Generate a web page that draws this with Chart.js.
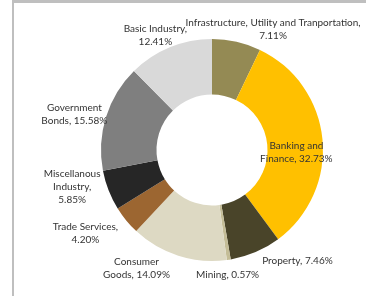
<!DOCTYPE html>
<html>
<head>
<meta charset="utf-8">
<script src="https://cdn.jsdelivr.net/npm/chart.js@4.4.1/dist/chart.umd.min.js"></script>
<style>
  html, body { margin: 0; padding: 0; background: #fff; }
  #wrap { position: relative; width: 366px; height: 296px; }
</style>
</head>
<body>
<div id="wrap"><canvas id="myChart" width="366" height="296"></canvas></div>
<script>
// data
const sectors = ['Infrastructure, Utility and Tranportation', 'Banking and Finance', 'Property', 'Mining',
    'Consumer Goods', 'Trade Services', 'Miscellanous Industry', 'Government Bonds', 'Basic Industry'];
const shares = [7.11, 32.73, 7.46, 0.57, 14.09, 4.20, 5.85, 15.58, 12.41];
const sliceColors = ['#948A54', '#FFC000', '#494429', '#C4BD97', '#DDD9C3', '#9C6631', '#262626', '#7F7F7F', '#D9D9D9'];

// label text lines (as in the picture) and where they sit, in units of the outer radius from the centre
const labelLines = [
    ['Infrastructure, Utility and Tranportation,', '7.11%'],
    ['Banking and', 'Finance, 32.73%'],
    ['Property, 7.46%'],
    ['Mining, 0.57%'],
    ['Consumer', 'Goods, 14.09%'],
    ['Trade Services,', '4.20%'],
    ['Miscellanous', 'Industry,', '5.85%'],
    ['Government', 'Bonds, 15.58%'],
    ['Basic Industry,', '12.41%'],
]
const labelSpots = [
    [0.55, -1.09], [0.76, 0.02], [0.77, 1.00], [0.14, 1.12], [-0.68, 1.07],
    [-1.14, 0.75], [-1.26, 0.33], [-1.24, -0.32], [-0.51, -1.03]
]

const frame = {
    id: 'frame',
    beforeDraw(chart) {
        const c = chart.ctx;
        c.save();
        c.fillStyle = '#BFBFBF';
        c.fillRect(12, 0, chart.width - 12, 3);
        c.fillRect(12, 0, 2, chart.height);
        c.restore();
    }
}

const sliceLabels = {
    id: 'sliceLabels',
    afterDatasetsDraw(chart) {
        const c = chart.ctx;
        const arc = chart.getDatasetMeta(0).data[0];
        const cx = arc.x, cy = arc.y, r = arc.outerRadius;
        c.save();
        c.font = '10px Lato';
        c.fillStyle = '#333333';
        c.textAlign = 'center';
        c.textBaseline = 'middle';
        labelLines.forEach((lines, i) => {
            const x = cx + labelSpots[i][0] * r;
            const y = cy + labelSpots[i][1] * r;
            const lh = 13;
            const top = y - (lines.length - 1) * lh / 2;
            lines.forEach((t, j) => c.fillText(t, x, top + j * lh));
        });
        c.restore();
    }
}

const config = {
    type: 'doughnut',
    data: {
        labels: sectors,
        datasets: [{
            data: shares,
            backgroundColor: sliceColors,
            borderWidth: 0,
            hoverOffset: 0,
        }]
    },
    options: {
        responsive: false,
        animation: false,
        cutout: '50%',
        layout: {
            padding: { left: 101, right: 43, top: 39, bottom: 35 }
        },
        plugins: {
            legend: { display: false },
            tooltip: { enabled: false },
        },
        events: [],
    },
    plugins: [frame, sliceLabels]
}

const ctx = document.getElementById('myChart')
const myChart = new Chart(ctx, config)
</script>
</body>
</html>
